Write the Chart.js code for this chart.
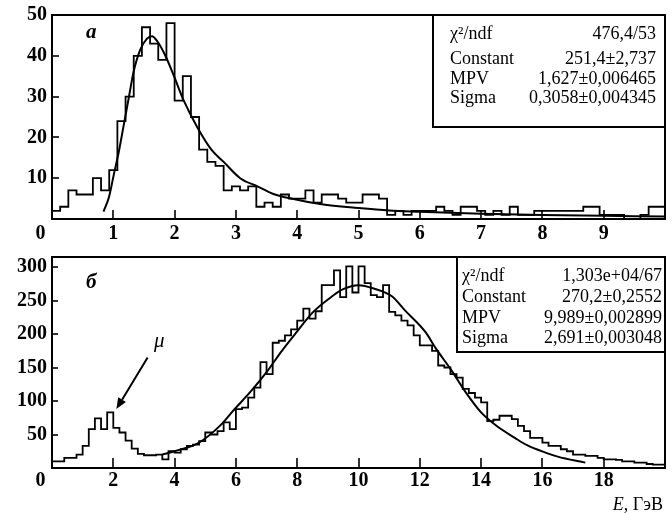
<!DOCTYPE html>
<html>
<head>
<meta charset="utf-8">
<script src="https://cdn.jsdelivr.net/npm/chart.js@4.4.0/dist/chart.umd.min.js"></script>
<style>
html,body{margin:0;padding:0;background:#fff;}
#wrap{position:relative;width:672px;height:513px;overflow:hidden;}
.pane{position:absolute;left:0;}
</style>
</head>
<body>
<div id="wrap">
  <div class="pane" style="top:0;"><canvas id="c1" width="672" height="250"></canvas></div>
  <div class="pane" style="top:250px;"><canvas id="c2" width="672" height="263"></canvas></div>
</div>
<script>
// ---------- DATA: panel "а" ----------
const topBinStart = 0;
const topBinWidth = 10 / 75;
const topCounts = [2,3,7,6,6,10,7,12,24,30,
                   40,47,43,39,48,29,35,25,17,14,
                   13,7,8,7,8,3,4,3,6,5,
                   5,7,4,6,6,5,4,4,6,6,
                   5,1,2,1,2,2,2,3,2,1,
                   3,3,2,1,2,1,3,1,1,2,
                   2,2,2,2,2,3,3,1,1,1,
                   0,0,1,3,3];
const topFitX = [0.84,0.93,1.01,1.09,1.17,1.25,1.33,1.44,1.55,1.63,1.72,1.85,1.99,2.15,2.37,2.6,2.8,3.07,3.35,3.6,3.9,4.4,5.0,5.5,6.0,7.0,8.0,9.0,10.0];
const topFitY = [1.8,5.4,11,16.5,23,29.5,36,41.5,44.2,44.8,43.5,40,35,29,22.5,17,14,10,8,6.2,5.0,3.6,2.7,2.1,1.8,1.3,1.0,0.8,0.6];
const topXTicks = [1,2,3,4,5,6,7,8,9];
const topYTicks = [10,20,30,40,50];
const topStatNames = ["χ²/ndf","Constant","MPV","Sigma"];
const topStatValues = ["476,4/53","251,4±2,737","1,627±0,006465","0,3058±0,004345"];

// ---------- DATA: panel "б" ----------
const botBinStart = 0;
const botBinWidth = 0.2;
const botCounts = [10,10,15,15,20,33,58,74,58,83,
                   60,53,41,29,21,19,19,20,13,25,
                   23,28,33,35,40,53,50,55,68,58,
                   88,90,105,120,158,140,187,190,198,207,
                   220,238,223,234,273,273,295,255,301,262,
                   301,276,258,255,273,233,228,220,213,198,
                   183,183,175,153,150,140,135,118,112,105,
                   98,70,72,78,78,73,63,55,45,45,
                   38,33,33,28,25,20,20,18,18,15,
                   13,13,12,10,10,8,8,6,5,5];
const botFitX = [3.6,4.0,4.8,5.5,5.9,6.5,7.0,7.5,8.0,8.5,9.1,9.5,10.0,10.5,11.1,11.5,12.2,12.5,13.0,13.5,14.0,14.5,15.1,15.5,16.1,16.5,17.4];
const botFitY = [20,25,38,64,85,115,143,175,204,232,255,267,273,268,256,236,202,180,148,113,83,63,45,34,23,17,8];
const botXTicks = [2,4,6,8,10,12,14,16,18];
const botYTicks = [50,100,150,200,250,300];
const botStatNames = ["χ²/ndf","Constant","MPV","Sigma"];
const botStatValues = ["1,303e+04/67","270,2±0,2552","9,989±0,002899","2,691±0,003048"];
const muLabel = {text:"μ", x:3.5, y:181};
const muArrow = {x0:3.12, y0:165, x1:2.10, y1:88};

// ---------- helpers ----------
const SERIF = '"Liberation Serif", "Times New Roman", serif';
const tickFont = {family: SERIF, size: 20, weight: 'bold'};

function histPoints(start, width, counts){
  const pts = counts.map((c,i)=>({x: start + i*width, y: c}));
  pts.push({x: start + counts.length*width, y: counts[counts.length-1]});
  return pts;
}
function curvePoints(xs, ys){ return xs.map((x,i)=>({x, y: ys[i]})); }

function decor(o){
  return {
    id: 'decor',
    beforeDraw(chart){
      const ctx = chart.ctx;
      ctx.save(); ctx.fillStyle = '#fff'; ctx.fillRect(0,0,chart.width,chart.height); ctx.restore();
    },
    afterDraw(chart){
      const ctx = chart.ctx, a = chart.chartArea, xs = chart.scales.x, ys = chart.scales.y;
      ctx.save();
      ctx.strokeStyle = '#000'; ctx.fillStyle = '#000';
      // ticks inward
      ctx.lineWidth = 1.6;
      xs.ticks.forEach(t=>{
        const px = Math.round(xs.getPixelForValue(t.value));
        ctx.beginPath(); ctx.moveTo(px, a.bottom); ctx.lineTo(px, a.bottom - o.xTickLen); ctx.stroke();
      });
      ys.ticks.forEach(t=>{
        const py = Math.round(ys.getPixelForValue(t.value));
        ctx.beginPath(); ctx.moveTo(a.left, py); ctx.lineTo(a.left + o.yTickLen, py); ctx.stroke();
      });
      // frame
      ctx.lineWidth = 2;
      ctx.strokeRect(a.left, a.top, a.right - a.left, a.bottom - a.top);
      // "0" label at corner
      ctx.font = 'bold 20px ' + SERIF;
      ctx.textAlign = 'center'; ctx.textBaseline = 'middle';
      ctx.fillText('0', a.left - 11.5, a.bottom + o.xPad + 12);
      // panel letter
      ctx.font = 'italic bold 21px ' + SERIF;
      ctx.textAlign = 'left'; ctx.textBaseline = 'alphabetic';
      ctx.fillText(o.letter, a.left + 34, a.top + o.letterDy);
      // stats box
      const bx = a.right - o.boxW, by = a.top, bh = o.boxH;
      ctx.fillStyle = '#fff';
      ctx.fillRect(bx, by, a.right - bx, bh);
      ctx.fillStyle = '#000';
      ctx.lineWidth = 2;
      ctx.strokeRect(bx, by, a.right - bx, bh);
      ctx.font = '18px ' + SERIF;
      o.names.forEach((n,i)=>{
        ctx.textAlign = 'left';
        ctx.fillText(n, bx + o.textL, by + o.rows[i]);
        ctx.textAlign = 'right';
        ctx.fillText(o.values[i], a.right - o.textR, by + o.rows[i]);
      });
      if (o.extra) o.extra(chart, ctx, a, xs, ys);
      ctx.restore();
    }
  };
}

function noPad(s){ s.paddingTop = 0; s.paddingBottom = 0; s.paddingLeft = 0; s.paddingRight = 0; }

function makeChart(id, o){
  return new Chart(document.getElementById(id), {
    type: 'line',
    data: {datasets: [
      {data: histPoints(o.binStart, o.binWidth, o.counts), stepped: 'before',
       borderColor: '#000', borderWidth: 1.8, pointRadius: 0, fill: false},
      {data: curvePoints(o.fitX, o.fitY), cubicInterpolationMode: 'monotone',
       borderColor: '#000', borderWidth: 2, pointRadius: 0, fill: false}
    ]},
    options: {
      responsive: false, animation: false, events: [],
      layout: {padding: {left: 0, right: 7, top: o.padTop, bottom: 0}},
      plugins: {legend: {display: false}, tooltip: {enabled: false}},
      scales: {
        x: {type: 'linear', min: o.xMin, max: o.xMax,
            afterBuildTicks: s => { s.ticks = o.xTicks.map(v => ({value: v})); },
            afterFit: s => { s.height = o.xAxisH; noPad(s); },
            grid: {display: false, drawTicks: false}, border: {display: false},
            ticks: {padding: o.xPad, font: tickFont, color: '#000', autoSkip: false, maxRotation: 0}},
        y: {type: 'linear', min: o.yMin, max: o.yMax,
            afterBuildTicks: s => { s.ticks = o.yTicks.map(v => ({value: v})); },
            afterFit: s => { s.width = 52; noPad(s); },
            grid: {display: false, drawTicks: false}, border: {display: false},
            ticks: {padding: 5, font: tickFont, color: '#000', autoSkip: false}}
      }
    },
    plugins: [decor(o)]
  });
}

makeChart('c1', {
  binStart: topBinStart, binWidth: topBinWidth, counts: topCounts,
  fitX: topFitX, fitY: topFitY, xTicks: topXTicks, yTicks: topYTicks,
  xMin: 0, xMax: 10, yMin: 0, yMax: 50, padTop: 15, xAxisH: 31, xPad: 3,
  xTickLen: 9, yTickLen: 7, letter: 'а', letterDy: 23,
  boxW: 232, boxH: 112, textL: 17, textR: 9, rows: [24, 49, 69, 88],
  names: topStatNames, values: topStatValues
});

makeChart('c2', {
  binStart: botBinStart, binWidth: botBinWidth, counts: botCounts,
  fitX: botFitX, fitY: botFitY, xTicks: botXTicks, yTicks: botYTicks,
  xMin: 0, xMax: 20, yMin: 0, yMax: 315, padTop: 7, xAxisH: 45, xPad: 1,
  xTickLen: 10, yTickLen: 6, letter: 'б', letterDy: 31,
  boxW: 208, boxH: 95, textL: 5, textR: 3, rows: [24, 45, 66, 86],
  names: botStatNames, values: botStatValues,
  extra: (chart, ctx, a, xs, ys) => {
    // μ label and arrow
    ctx.font = 'italic 21px ' + SERIF;
    ctx.textAlign = 'center'; ctx.textBaseline = 'alphabetic';
    ctx.fillText(muLabel.text, xs.getPixelForValue(muLabel.x), ys.getPixelForValue(muLabel.y));
    const x0 = xs.getPixelForValue(muArrow.x0), y0 = ys.getPixelForValue(muArrow.y0);
    const x1 = xs.getPixelForValue(muArrow.x1), y1 = ys.getPixelForValue(muArrow.y1);
    const ang = Math.atan2(y1 - y0, x1 - x0), hl = 11, hw = 4.5;
    const bxp = x1 - hl*Math.cos(ang), byp = y1 - hl*Math.sin(ang);
    ctx.lineWidth = 2;
    ctx.beginPath(); ctx.moveTo(x0, y0); ctx.lineTo(bxp, byp); ctx.stroke();
    ctx.beginPath();
    ctx.moveTo(x1, y1);
    ctx.lineTo(bxp + hw*Math.sin(ang), byp - hw*Math.cos(ang));
    ctx.lineTo(bxp - hw*Math.sin(ang), byp + hw*Math.cos(ang));
    ctx.closePath(); ctx.fill();
    // axis title "E, ГэВ"
    ctx.textBaseline = 'alphabetic'; ctx.textAlign = 'left';
    const rest = ', ГэВ';
    ctx.font = '18px ' + SERIF;
    const wRest = ctx.measureText(rest).width;
    ctx.font = 'italic 18px ' + SERIF;
    const wE = ctx.measureText('E').width;
    const right = 663, base = 260;
    ctx.fillText('E', right - wRest - wE, base);
    ctx.font = '18px ' + SERIF;
    ctx.fillText(rest, right - wRest, base);
  }
});
</script>
</body>
</html>
